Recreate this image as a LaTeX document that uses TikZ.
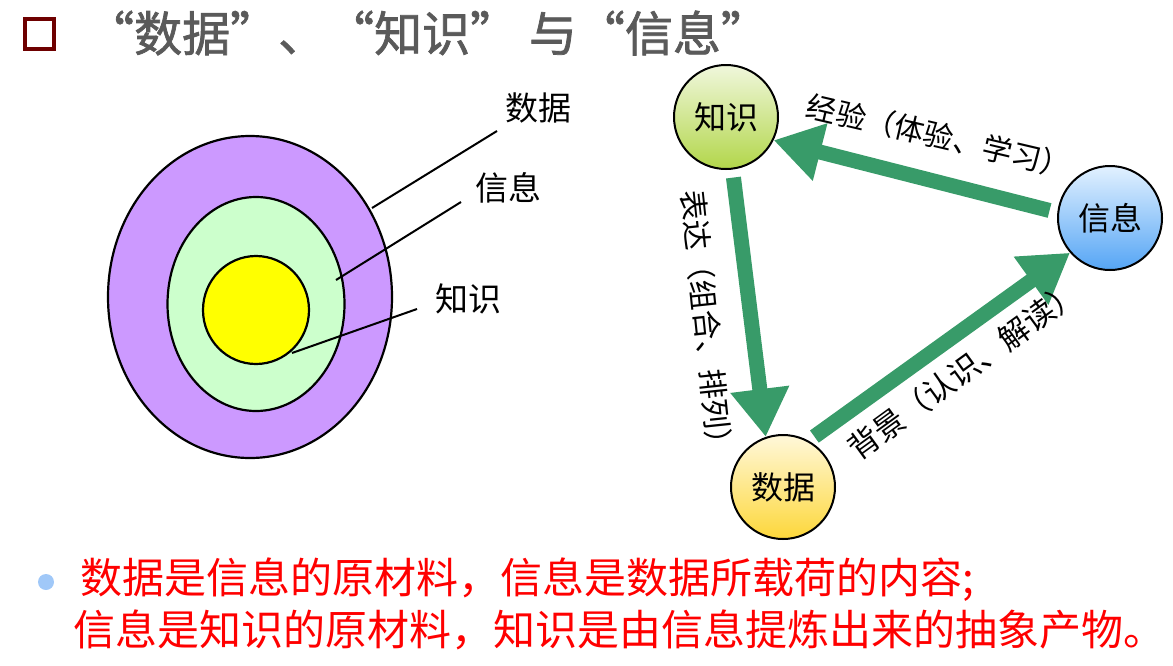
\documentclass[tikz,border=0pt]{standalone}
\usepackage{fontspec}
\newfontfamily\cjk{Noto Sans CJK SC}
\newfontfamily\cjkheavy[FakeBold=1.5]{Noto Sans CJK SC}
\usetikzlibrary{arrows.meta,shapes.geometric}
\definecolor{ringpurple}{HTML}{CC99FF}
\definecolor{ringgreen}{HTML}{CCFFCC}
\definecolor{ringyellow}{HTML}{FFFF00}
\definecolor{flowgreen}{HTML}{389B69}
\definecolor{titlegray}{HTML}{5A5A5A}
\definecolor{markred}{HTML}{6E0000}
\definecolor{bulletblue}{HTML}{A0C8F8}
\definecolor{kTop}{HTML}{F0F7DC}
\definecolor{kBot}{HTML}{B2D64A}
\definecolor{iTop}{HTML}{E2F1FF}
\definecolor{iBot}{HTML}{55A5F5}
\definecolor{dTop}{HTML}{FFF8DA}
\definecolor{dBot}{HTML}{FDD73A}
\begin{document}
\begin{tikzpicture}[x=1pt,y=-1pt,
  ring/.style={ellipse, draw=black, line width=2.2pt, inner sep=0},
  leader/.style={draw=black, line width=2pt},
  ringlbl/.style={font=\cjk\fontsize{33}{36}\selectfont, inner sep=0},
  concept/.style={circle, draw=black, line width=2pt, minimum size=104pt, inner sep=0,
                  font=\cjk\fontsize{32}{34}\selectfont},
  flow/.style={draw=flowgreen, line width=15pt, -{Triangle[length=48pt,width=56pt]}},
  flowlbl/.style={font=\cjk\fontsize{30}{32}\selectfont, inner sep=0},
  note/.style={font=\cjk\fontsize{42}{48}\selectfont, text=red, inner sep=0, anchor=west}]
\useasboundingbox (0,0) rectangle (1173,665);

% heading
\node[draw=markred, line width=4pt, fill=white, minimum width=29pt, minimum height=30pt,
      inner sep=0] (mark) at (39,33.5) {};
\node[font=\cjkheavy\fontsize{48}{56}\selectfont, text=titlegray, inner sep=0, anchor=west]
  (title) at (86,33) {“数据”、“知识” 与“信息”};

% nested rings
\node[ring, fill=ringpurple, minimum width=284pt, minimum height=322pt] (outer) at (250,297) {};
\node[ring, fill=ringgreen, minimum width=177pt, minimum height=214pt] (middle) at (256,304) {};
\node[ring, fill=ringyellow, minimum width=106pt, minimum height=108pt] (inner) at (256,310) {};

\node[ringlbl] (lblData) at (538,108) {数据};
\node[ringlbl] (lblInfo) at (508,188) {信息};
\node[ringlbl] (lblKnow) at (468,299) {知识};

\coordinate (dataA) at (372,208); \coordinate (dataB) at (497,131);
\coordinate (infoA) at (336,280); \coordinate (infoB) at (461,202);
\coordinate (knowA) at (292,353); \coordinate (knowB) at (417,309);
\draw[leader] (dataA) -- (dataB);
\draw[leader] (infoA) -- (infoB);
\draw[leader] (knowA) -- (knowB);

% cycle of concepts
\node[concept, top color=kTop, bottom color=kBot] (zhishi) at (726,117) {知识};
\node[concept, top color=iTop, bottom color=iBot] (xinxi) at (1110,218) {信息};
\node[concept, top color=dTop, bottom color=dBot] (shuju) at (783,487) {数据};

\draw[flow, shorten <=8pt] (xinxi.174) -- (zhishi.-26);
\draw[flow, shorten <=8pt] (zhishi.-83) -- (shuju.109);
\draw[flow, shorten <=7pt] (shuju.61) -- (xinxi.221);

\node[flowlbl, rotate=-13.2] (lblExp) at (939,136) {经验（体验、学习）};
\node[flowlbl, rotate=-84] (lblExpr) at (707,325) {表达（组合、排列）};
\node[flowlbl, rotate=36, font=\cjk\fontsize{31}{33}\selectfont] (lblCtx) at (964,370) {背景（认识、解读）};

% summary
\node[circle, fill=bulletblue, minimum size=16pt, inner sep=0] (bullet) at (46,582) {};
\node[note] (line1) at (80,580) {数据是信息的原材料，信息是数据所载荷的内容;};
\node[note] (line2) at (73,630) {信息是知识的原材料，知识是由信息提炼出来的抽象产物。};
\end{tikzpicture}
\end{document}
